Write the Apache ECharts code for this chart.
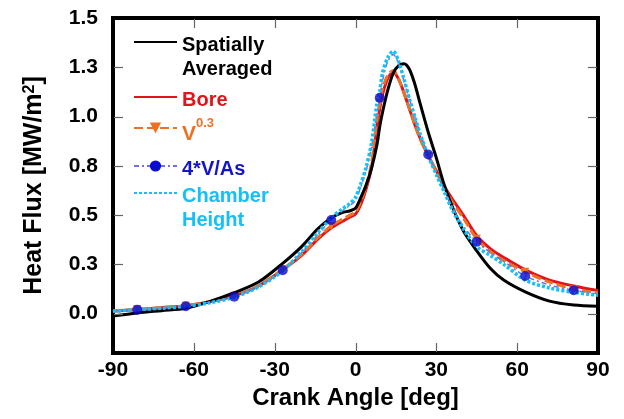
<!DOCTYPE html>
<html><head><meta charset="utf-8">
<script src="https://cdn.jsdelivr.net/npm/echarts@6/dist/echarts.min.js"></script>
<style>html,body{margin:0;padding:0;background:#fff}#c{width:624px;height:419px}</style>
</head><body><div id="c"></div>
<script>
// ---- data ----
const angles = [-90,-81,-72,-63,-54,-45,-36,-27,-20,-14,-9,-5,-2,0,2,4,6,8,9,10,12,14,16,18,20,22,24,27,30,33,36,40,45,50,55,63,72,81,90];
const spatiallyAveraged = [-0.012,0.003,0.015,0.027,0.062,0.106,0.16,0.255,0.34,0.43,0.485,0.512,0.522,0.535,0.59,0.655,0.74,0.86,0.95,1.02,1.135,1.22,1.258,1.268,1.24,1.165,1.065,0.92,0.79,0.65,0.54,0.42,0.318,0.23,0.17,0.11,0.063,0.043,0.037];
const bore = [0.012,0.02,0.03,0.04,0.06,0.09,0.14,0.222,0.295,0.378,0.435,0.467,0.49,0.505,0.555,0.635,0.745,0.95,1.04,1.11,1.195,1.225,1.19,1.12,1.04,0.96,0.89,0.8,0.725,0.645,0.58,0.5,0.395,0.33,0.285,0.222,0.17,0.14,0.117];
const v03 = [0.014,0.022,0.03,0.04,0.06,0.09,0.142,0.225,0.3,0.385,0.445,0.478,0.5,0.515,0.57,0.65,0.77,0.99,1.07,1.14,1.21,1.233,1.19,1.12,1.04,0.96,0.885,0.8,0.72,0.64,0.565,0.485,0.38,0.315,0.27,0.212,0.16,0.125,0.106];
const fourVOverAs = [0.012,0.02,0.028,0.037,0.058,0.086,0.137,0.22,0.31,0.4,0.475,0.52,0.55,0.575,0.645,0.73,0.85,1.02,1.095,1.18,1.28,1.315,1.27,1.18,1.09,1.0,0.915,0.807,0.715,0.625,0.54,0.445,0.365,0.31,0.265,0.191,0.145,0.118,0.1];
const chamberHeight = [0.012,0.02,0.027,0.037,0.055,0.083,0.135,0.218,0.315,0.41,0.485,0.53,0.56,0.59,0.66,0.745,0.87,1.07,1.13,1.22,1.3,1.332,1.28,1.19,1.09,1.0,0.912,0.8,0.705,0.615,0.525,0.43,0.34,0.295,0.25,0.17,0.13,0.108,0.093];
const markerAngles = [-81,-63,-45,-27,-9,9,27,45,63,81];
const xTickValues = [-90,-60,-30,0,30,60,90];
const yTickValues = [0,0.25,0.5,0.75,1,1.25,1.5];
const yTickLabels = ['0.0','0.3','0.5','0.8','1.0','1.3','1.5'];
const seriesNames = ['Spatially\nAveraged','Bore','V0.3','4*V/As','Chamber\nHeight'];

// ---- chart ----
const FONT = "'Liberation Sans', Arial, sans-serif";
const X_MIN = -90, X_MAX = 90, Y_MIN = -0.2, Y_MAX = 1.5;
const chart = echarts.init(document.getElementById('c'), null, {renderer:'canvas'});

function linePts(vals, marked){
  return angles.map((a,i)=> (marked && markerAngles.indexOf(a) >= 0)
    ? {value:[a, vals[i]]}
    : {value:[a, vals[i]], symbol:'none'});
}
function markerPts(vals){
  return angles.map((a,i)=>[a, vals[i]]).filter(p=>markerAngles.indexOf(p[0]) >= 0);
}

const C = {sa:'#000000', bore:'#e0141a', v:'#f07022', vas:'#7070e6', vasDot:'#0a0ad0', vasText:'#1414c8', ch:'#14c0f5'};
const noSym = {color:'rgba(0,0,0,0)', borderColor:'rgba(0,0,0,0)', borderWidth:0};

// one legend per entry so each row can sit exactly where the reference has it;
// a small empty first line pushes the text a few pixels below the icon
function mkLegend(name, top, color, spacer, extra){
  return Object.assign({
    data:[name], left:133, top:top, padding:0, itemGap:0,
    itemWidth:43, itemHeight:14, orient:'vertical',
    formatter:(n)=>'{e| }\n'+n,
    textStyle:{fontFamily:FONT, fontSize:20, fontWeight:'bold', color:color, lineHeight:24,
      rich:{e:{fontSize:6, lineHeight:spacer}}}
  }, extra || {});
}

function frameLine(){ return {show:true, onZero:false, lineStyle:{color:'#000', width:4, cap:'square'}}; }

const option = {
  animation:false,
  backgroundColor:'#fff',
  grid:{left:113, right:26, top:18, bottom:66, show:false},
  legend:[
    mkLegend(seriesNames[0], 3, C.sa, 30, {itemStyle:noSym}),
    mkLegend(seriesNames[1], 82, C.bore, 6, {itemStyle:noSym}),
    mkLegend(seriesNames[2], 108, C.v, 12, {
      formatter: ()=> '{e| }\n{b|V}{s|0.3}',
      textStyle:{fontFamily:FONT, fontSize:20, fontWeight:'bold', color:C.v,
        rich:{e:{fontSize:6, lineHeight:12},
              b:{fontFamily:FONT, fontSize:21, fontWeight:'bold', color:C.v, lineHeight:34},
              s:{fontFamily:FONT, fontSize:13, fontWeight:'bold', color:C.v, lineHeight:14, verticalAlign:'top'}}}
    }),
    mkLegend(seriesNames[3], 151, C.vasText, 6),
    mkLegend(seriesNames[4], 154, C.ch, 30, {itemStyle:noSym})
  ],
  xAxis:[
    {type:'value', position:'bottom', min:X_MIN, max:X_MAX, interval:30,
     axisLine:frameLine(), axisTick:{show:false}, splitLine:{show:false},
     axisLabel:{fontFamily:FONT, fontSize:21, fontWeight:'bold', color:'#000', margin:7},
     name:'Crank Angle [deg]', nameLocation:'middle', nameGap:32,
     nameTextStyle:{fontFamily:FONT, fontSize:24, fontWeight:'bold', color:'#000'}},
    {type:'value', position:'top', min:X_MIN, max:X_MAX, interval:30,
     axisLine:frameLine(), axisTick:{show:false}, splitLine:{show:false}, axisLabel:{show:false}}
  ],
  yAxis:[
    {type:'value', position:'left', min:Y_MIN, max:Y_MAX,
     axisLine:frameLine(), axisTick:{show:false}, splitLine:{show:false},
     axisLabel:{fontFamily:FONT, fontSize:21, fontWeight:'bold', color:'#000', margin:15, customValues:yTickValues.slice(),
       formatter:(v)=>{ const i = yTickValues.findIndex(t=>Math.abs(t-v)<1e-9); return i>=0 ? yTickLabels[i] : ''; }},
     name:'Heat Flux [MW/m{s|2}]', nameLocation:'middle', nameGap:66,
     nameTextStyle:{fontFamily:FONT, fontSize:25, fontWeight:'bold', color:'#000',
       rich:{s:{fontFamily:FONT, fontSize:16, fontWeight:'bold', color:'#000', verticalAlign:'top', lineHeight:14}}}},
    {type:'value', position:'right', min:Y_MIN, max:Y_MAX,
     axisLine:frameLine(), axisTick:{show:false}, splitLine:{show:false}, axisLabel:{show:false}}
  ],
  series:[
    {name:seriesNames[1], type:'line', data:linePts(bore,false), symbol:'none', smooth:0.3, z:2,
     color:C.bore, lineStyle:{color:C.bore, width:3}},
    {name:seriesNames[2], type:'line', data:linePts(v03,true), symbol:'triangle', symbolRotate:180, symbolSize:8, showAllSymbol:true, smooth:0.3, z:3,
     color:C.v, itemStyle:{color:C.v}, lineStyle:{color:C.v, width:3, type:[9,4]}},
    {name:seriesNames[0], type:'line', data:linePts(spatiallyAveraged,false), symbol:'none', smooth:0.3, z:4,
     color:C.sa, lineStyle:{color:C.sa, width:3}},
    {name:seriesNames[3], type:'line', data:linePts(fourVOverAs,false), symbol:'circle', symbolSize:9, smooth:0.3, z:5,
     color:C.vas, itemStyle:{color:C.vasDot}, lineStyle:{color:C.vas, width:1.5, type:[5,3,2,3]}},
    {name:seriesNames[4], type:'line', data:linePts(chamberHeight,false), symbol:'none', smooth:0.3, z:6,
     color:C.ch, lineStyle:{color:C.ch, width:3.5, type:[3,2]}},
    {name:seriesNames[3], type:'scatter', data:markerPts(fourVOverAs), symbol:'circle', symbolSize:10, z:8,
     itemStyle:{color:C.vasDot}}
  ]
};
chart.setOption(option);

// inward tick marks on all four sides, placed through the axes' own scales
const TICK_LEN = 10, TICK_STYLE = {stroke:'#666', lineWidth:1.2};
const yBottom = chart.convertToPixel({yAxisIndex:0}, Y_MIN);
const yTop = chart.convertToPixel({yAxisIndex:0}, Y_MAX);
const xLeft = chart.convertToPixel({xAxisIndex:0}, X_MIN);
const xRight = chart.convertToPixel({xAxisIndex:0}, X_MAX);
const ticks = [];
xTickValues.filter(v=>v>X_MIN && v<X_MAX).forEach(v=>{
  const x = Math.round(chart.convertToPixel({xAxisIndex:0}, v)) + 0.5;
  ticks.push({type:'line', silent:true, z:20, shape:{x1:x, y1:yBottom-1, x2:x, y2:yBottom-TICK_LEN}, style:TICK_STYLE});
  ticks.push({type:'line', silent:true, z:20, shape:{x1:x, y1:yTop+1, x2:x, y2:yTop+TICK_LEN}, style:TICK_STYLE});
});
yTickValues.filter(v=>v>Y_MIN && v<Y_MAX).forEach(v=>{
  const y = Math.round(chart.convertToPixel({yAxisIndex:0}, v)) + 0.5;
  ticks.push({type:'line', silent:true, z:20, shape:{x1:xLeft+1, y1:y, x2:xLeft+TICK_LEN, y2:y}, style:TICK_STYLE});
  ticks.push({type:'line', silent:true, z:20, shape:{x1:xRight-1, y1:y, x2:xRight-TICK_LEN, y2:y}, style:TICK_STYLE});
});
chart.setOption({graphic:{elements:ticks}});
</script>
</body></html>
